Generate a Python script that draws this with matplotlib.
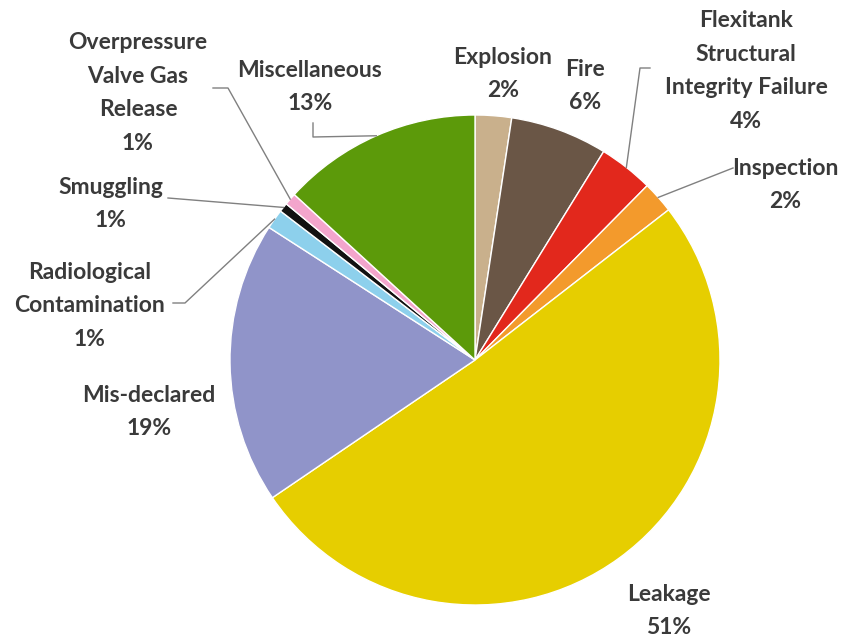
import numpy as np
import matplotlib
matplotlib.use("Agg")
import matplotlib.pyplot as plt

# ------------------------------------------------------------
# DATA
# ------------------------------------------------------------
categories = ["Explosion", "Fire", "Flexitank\nStructural\nIntegrity Failure",
              "Inspection", "Leakage", "Mis-declared",
              "Radiological\nContamination", "Smuggling",
              "Overpressure\nValve Gas\nRelease", "Miscellaneous"]
shares = [2.4, 6.4, 3.6, 2.1, 51.0, 18.6, 1.3, 0.6, 0.8, 13.2]
colors = ["#C9B08C", "#6A5646", "#E2281C", "#F39A2C", "#E6CE00",
          "#9094C9", "#8DD0EC", "#111111", "#F3A5CC", "#5C9A0A"]

# ------------------------------------------------------------
# LAYOUT (pixel coords, y measured from top)
# ------------------------------------------------------------
W, H = 849, 638
cx, cy, R = 475, 360, 245
label_pos = [(503, 74), (585, 86), (746, 71), (785, 185), (669, 611),
             (149, 412), (90, 306), (111, 204), (138, 93), (310, 87)]
# bend points of leader lines, the last point goes to the wedge edge
leaders = [None, None, [(650, 68), (640, 68)], [(733, 168)], None, None,
           [(173, 303), (185, 303)], [(168, 198)],
           [(213, 88), (228, 88)], [(313, 123), (313, 137)]]

fig = plt.figure(figsize=(W / 100, H / 100), dpi=100)
ax = fig.add_axes([0, 0, 1, 1])

wedges, _ = ax.pie(shares, colors=colors, startangle=90, counterclock=False,
                   center=(cx, H - cy), radius=R,
                   wedgeprops=dict(edgecolor="white", linewidth=1))
ax.set_xlim(0, W)
ax.set_ylim(0, H)
ax.set_aspect("equal")
ax.axis("off")

for w, name, v, (lx, ly), bends in zip(wedges, categories, shares, label_pos, leaders):
    ax.text(lx, H - ly, f"{name}\n{v:.0f}%", ha="center", va="center",
            fontsize=16.5, fontweight="bold", family="Lato", color="#3a3a3a",
            linespacing=1.75)
    if bends:
        mid = np.deg2rad((w.theta1 + w.theta2) / 2)
        ex = w.center[0] + w.r * np.cos(mid)
        ey = w.center[1] + w.r * np.sin(mid)
        xs = [p[0] for p in bends] + [ex]
        ys = [H - p[1] for p in bends] + [ey]
        ax.plot(xs, ys, color="#808080", lw=1)

fig.savefig("out.png", dpi=100)
